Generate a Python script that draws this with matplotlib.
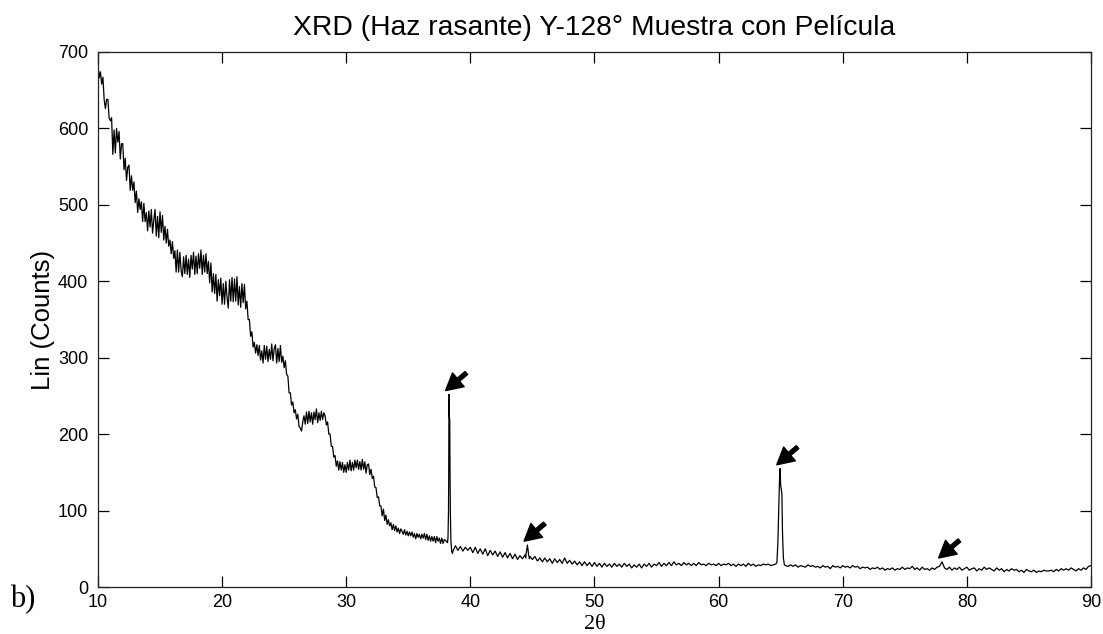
import numpy as np
import matplotlib
matplotlib.use("Agg")
import matplotlib.pyplot as plt

# Amorphous region, sampled every 0.1 deg from 10.0 to 37.9 (2-theta)
low_start, low_step = 10.0, 0.1
counts_low = [
    684, 666, 674, 658, 667, 638, 626, 638, 638, 614,   # 10
    610, 614, 566, 598, 568, 600, 582, 596, 560, 580,   # 11
    580, 546, 561, 532, 549, 552, 519, 538, 519, 530,   # 12
    503, 518, 490, 508, 494, 504, 478, 502, 478, 490,   # 13
    466, 492, 471, 494, 463, 480, 494, 459, 485, 457,   # 14
    491, 464, 486, 454, 472, 450, 468, 446, 454, 436,   # 15
    452, 430, 440, 412, 441, 412, 438, 414, 406, 432,   # 16
    410, 434, 409, 429, 405, 434, 416, 438, 409, 433,   # 17
    410, 436, 417, 441, 409, 434, 412, 436, 410, 426,   # 18
    398, 424, 386, 410, 384, 409, 374, 402, 381, 404,   # 19
    370, 397, 370, 400, 379, 365, 402, 374, 405, 373,   # 20
    403, 374, 406, 369, 393, 366, 397, 372, 396, 364,   # 21
    374, 350, 350, 328, 334, 314, 320, 306, 317, 303,   # 22
    316, 297, 309, 293, 316, 298, 315, 295, 311, 298,   # 23
    318, 296, 312, 317, 293, 312, 295, 316, 294, 302,   # 24
    287, 296, 278, 276, 254, 254, 238, 242, 228, 232,   # 25
    220, 226, 210, 208, 204, 216, 224, 213, 229, 214,   # 26
    230, 216, 228, 213, 229, 219, 233, 215, 228, 218,   # 27
    230, 219, 228, 224, 212, 216, 200, 200, 184, 184,   # 28
    170, 172, 158, 165, 153, 164, 153, 163, 150, 160,   # 29
    150, 163, 153, 166, 152, 163, 153, 166, 156, 166,   # 30
    154, 164, 153, 167, 154, 164, 149, 160, 161, 147,   # 31
    154, 142, 145, 131, 130, 117, 118, 106, 106, 93,    # 32
    102, 87, 94, 82, 88, 80, 84, 75, 82, 74,            # 33
    80, 72, 77, 70, 76, 73, 69, 75, 68, 73,             # 34
    67, 72, 67, 72, 65, 70, 63, 70, 65, 69,             # 35
    63, 69, 64, 70, 62, 69, 61, 67, 60, 66,             # 36
    60, 66, 58, 66, 60, 64, 57, 64, 57, 62,             # 37
]

# Crystalline region background, sampled every 0.2 deg from 38 to 90
high_start, high_step = 38.0, 0.2
counts_high = [
    61, 70, 60, 47, 54, 48, 53, 47, 52, 48,             # 38
    52, 45, 52, 44, 50, 43, 50, 41, 48, 42,             # 40
    47, 40, 46, 39, 45, 38, 44, 37, 43, 36,             # 42
    41, 37, 42, 45, 40, 36, 40, 34, 38, 33,             # 44
    38, 33, 37, 31, 37, 32, 36, 31, 38, 31,             # 46
    35, 30, 34, 29, 33, 28, 33, 28, 32, 27,             # 48
    32, 27, 31, 26, 31, 27, 30, 26, 31, 27,             # 50
    30, 26, 31, 27, 30, 25, 29, 26, 30, 25,             # 52
    30, 27, 31, 26, 30, 28, 32, 27, 31, 28,             # 54
    32, 28, 33, 29, 31, 28, 32, 29, 31, 28,             # 56
    31, 28, 32, 29, 30, 28, 31, 29, 30, 28,             # 58
    31, 28, 30, 29, 31, 28, 30, 27, 30, 28,             # 60
    30, 27, 31, 28, 30, 27, 29, 28, 30, 29,             # 62
    30, 28, 29, 30, 60, 150, 40, 28, 27, 29,            # 64
    27, 29, 26, 28, 27, 26, 29, 27, 28, 26,             # 66
    27, 25, 28, 26, 27, 24, 28, 26, 27, 25,             # 68
    28, 26, 27, 25, 28, 26, 27, 24, 26, 25,             # 70
    26, 23, 25, 24, 26, 23, 25, 22, 24, 23,             # 72
    25, 22, 24, 23, 26, 23, 25, 24, 27, 23,             # 74
    25, 22, 26, 23, 24, 22, 25, 23, 26, 27,             # 76
    33, 25, 23, 26, 22, 25, 23, 26, 22, 24,             # 78
    26, 22, 24, 25, 21, 24, 22, 26, 23, 25,             # 80
    23, 21, 25, 22, 24, 20, 23, 21, 24, 22,             # 82
    23, 20, 22, 19, 23, 21, 20, 22, 19, 21,             # 84
    20, 22, 21, 21, 22, 20, 23, 21, 24, 22,             # 86
    24, 22, 25, 23, 21, 24, 22, 25, 23, 27,             # 88
    28,                                                 # 90
]

# Finely sampled profiles of the sharp reflections
peak_a_theta = [38.16, 38.20, 38.24, 38.26, 38.28, 38.30, 38.32, 38.34, 38.36, 38.39, 38.43, 38.50, 38.56]
peak_a_counts = [58, 64, 98, 150, 252, 224, 221, 219, 160, 100, 62, 46, 44]
peak_b_theta = [44.46, 44.50, 44.55, 44.60, 44.65, 44.70, 44.76]
peak_b_counts = [38, 44, 50, 55, 48, 42, 37]
peak_c_theta = [64.70, 64.78, 64.85, 64.92, 64.96, 65.00, 65.05, 65.10, 65.15, 65.22, 65.30]
peak_c_counts = [32, 60, 105, 148, 155, 133, 128, 122, 70, 38, 29]

# Reflections marked with arrows (position, height)
marked_theta = [38.28, 44.60, 64.96, 78.00]
marked_counts = [252, 55, 155, 33]

title = "XRD (Haz rasante) Y-128\u00b0 Muestra con Pel\u00edcula"
x_ticks = [10, 20, 30, 40, 50, 60, 70, 80, 90]
y_ticks = [0, 100, 200, 300, 400, 500, 600, 700]

# Merge both background grids with the fine peak profiles
low_x = low_start + low_step * np.arange(len(counts_low))
high_x = high_start + high_step * np.arange(len(counts_high))
base_x = np.concatenate([low_x, high_x])
base_y = np.asarray(counts_low + counts_high, dtype=float)
keep = np.ones(len(base_x), dtype=bool)
xs, ys = [], []
for px, py in [(peak_a_theta, peak_a_counts), (peak_b_theta, peak_b_counts),
               (peak_c_theta, peak_c_counts)]:
    keep &= ~((base_x >= min(px) - 1e-9) & (base_x <= max(px) + 1e-9))
    xs.append(np.asarray(px, dtype=float))
    ys.append(np.asarray(py, dtype=float))
x_all = np.concatenate([base_x[keep]] + xs)
y_all = np.concatenate([base_y[keep]] + ys)
order = np.argsort(x_all)
x_all, y_all = x_all[order], y_all[order]

fig = plt.figure(figsize=(11.03, 6.34), dpi=100)
ax = fig.add_axes([0.0888, 0.0741, 0.9003, 0.8439])
ax.plot(x_all, y_all, color="black", linewidth=0.9)

ax.set_xlim(10, 90)
ax.set_ylim(0, 700)
ax.set_xticks(x_ticks)
ax.set_yticks(y_ticks)
ax.tick_params(direction="in", length=8, width=0.9, top=True, right=True,
               labelsize=13, colors="black")
ax.tick_params(axis="y", pad=7)
ax.tick_params(axis="x", pad=5)
for lab in ax.get_xticklabels() + ax.get_yticklabels():
    lab.set_fontfamily("Liberation Sans")
for sp in ax.spines.values():
    sp.set_linewidth(0.9)
    sp.set_color("#222222")

ax.set_title(title, fontfamily="Liberation Sans", fontsize=20.3, pad=12)
ax.set_ylabel("Lin (Counts)", fontfamily="Liberation Sans", fontsize=18.5, labelpad=2)
ax.set_xlabel("2\u03b8", fontfamily="Liberation Serif", fontsize=16, labelpad=3)

# Arrows pointing at the marked reflections
for px, py in zip(marked_theta, marked_counts):
    head = (px - 0.27, py + 5)
    tail = (head[0] + 1.67, head[1] + 23)
    ax.annotate("", xy=head, xytext=tail,
                arrowprops=dict(facecolor="black", edgecolor="black",
                                width=2.8, headwidth=13, headlength=12, shrink=0))

fig.text(0.009, 0.043, "b)", fontfamily="Liberation Serif", fontsize=22)

fig.savefig("out.png", dpi=100)
